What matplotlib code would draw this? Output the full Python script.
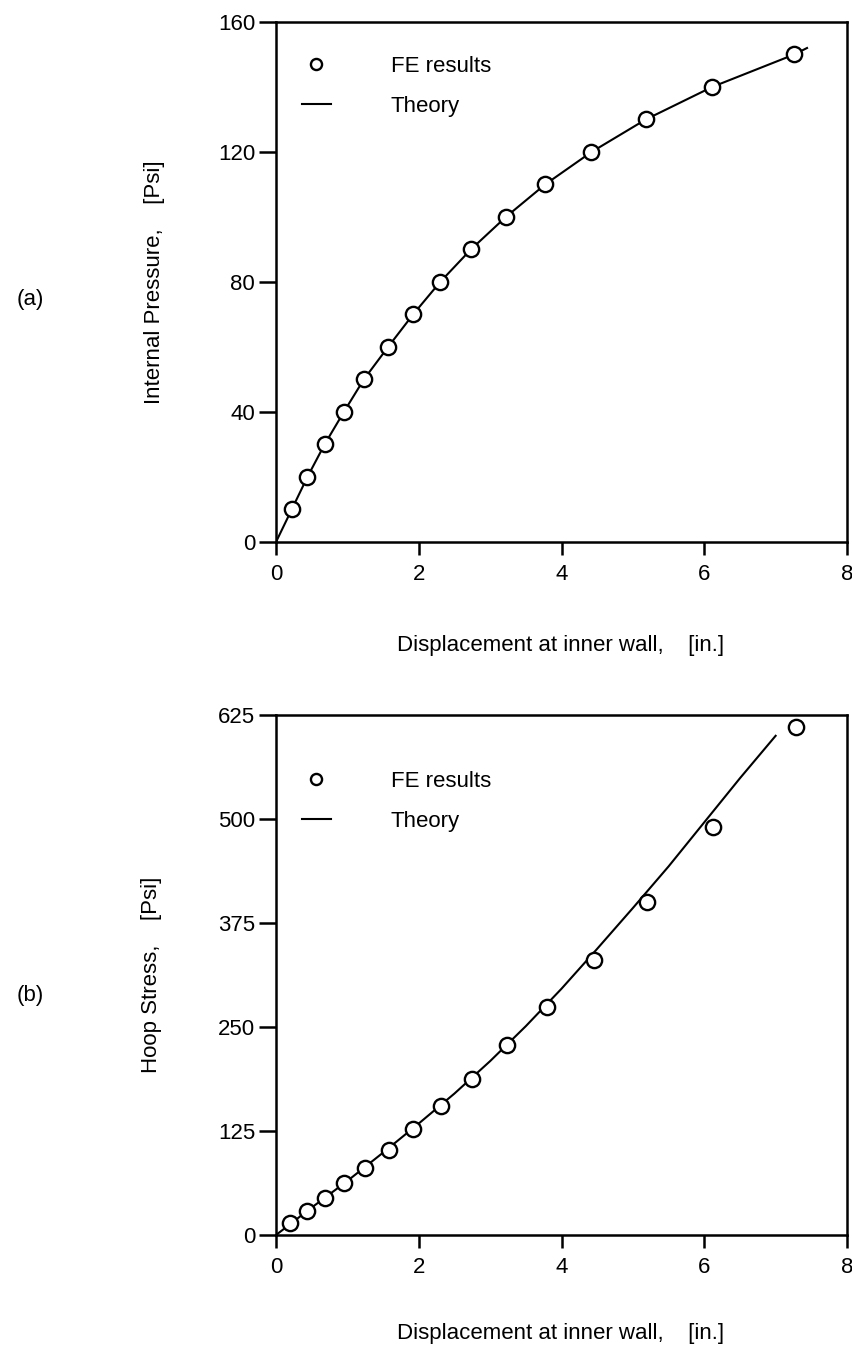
import matplotlib
matplotlib.use("Agg")
import matplotlib.pyplot as plt

plt.rcParams["font.family"] = ["Liberation Sans", "DejaVu Sans"]
plt.rcParams["font.size"] = 16

# (a) internal pressure vs displacement
x_a_fe = [0.22, 0.44, 0.68, 0.95, 1.23, 1.57, 1.92, 2.30, 2.73, 3.22, 3.77, 4.42, 5.18, 6.11, 7.26]
p_a_fe = [10, 20, 30, 40, 50, 60, 70, 80, 90, 100, 110, 120, 130, 140, 150]
x_a_th = [0, 0.22, 0.44, 0.68, 0.95, 1.23, 1.57, 1.92, 2.30, 2.73, 3.22, 3.77, 4.42, 5.18, 6.11, 7.26, 7.44]
p_a_th = [0, 10, 20, 30, 40, 50, 60, 70, 80, 90, 100, 110, 120, 130, 140, 150, 152]

# (b) hoop stress vs displacement
x_b_fe = [0.20, 0.43, 0.68, 0.95, 1.25, 1.58, 1.92, 2.31, 2.75, 3.24, 3.79, 4.45, 5.20, 6.12, 7.28]
s_b_fe = [14, 29, 45, 62, 81, 102, 127, 155, 187, 228, 274, 330, 400, 490, 610]
x_b_th = [0, 0.5, 1.0, 1.5, 2.0, 2.5, 3.0, 3.5, 4.0, 4.5, 5.0, 5.5, 6.0, 6.5, 7.0]
s_b_th = [0, 33, 65, 99, 134, 170, 209, 251, 296, 344, 393, 443, 496, 549, 600]

x_ticks = [0, 2, 4, 6, 8]
a_ticks = [0, 40, 80, 120, 160]
b_ticks = [0, 125, 250, 375, 500, 625]

W, H = 853, 1365
fig = plt.figure(figsize=(W / 100, H / 100), dpi=100)

ax_a = fig.add_axes([276 / W, 1 - 542 / H, 571 / W, 520 / H])
ax_b = fig.add_axes([276 / W, 1 - 1235 / H, 571 / W, 520 / H])


def style(ax, yticks, ymax):
    ax.set_xlim(0, 8)
    ax.set_ylim(0, ymax)
    ax.set_xticks(x_ticks)
    ax.set_yticks(yticks)
    for s in ax.spines.values():
        s.set_linewidth(1.8)
    ax.tick_params(axis="x", direction="out", length=9, width=1.8, pad=7)
    ax.tick_params(axis="y", direction="out", length=12, width=1.8, pad=3)


ax_a.plot(x_a_th, p_a_th, color="black", lw=1.5, label="Theory", zorder=2)
ax_a.plot(x_a_fe, p_a_fe, "o", ms=11, mfc="white", mec="black", mew=1.7, label="FE results", zorder=3)
style(ax_a, a_ticks, 160)

ax_b.plot(x_b_th, s_b_th, color="black", lw=1.5, label="Theory", zorder=2)
ax_b.plot(x_b_fe, s_b_fe, "o", ms=11, mfc="white", mec="black", mew=1.7, label="FE results", zorder=3)
style(ax_b, b_ticks, 625)

for ax, top in [(ax_a, 0.935), (ax_b, 0.893)]:
    h, l = ax.get_legend_handles_labels()
    leg = ax.legend(h[::-1], l[::-1], loc="upper left", bbox_to_anchor=(0.045, top),
                    frameon=False, handlelength=1.3, handletextpad=2.7,
                    labelspacing=0.85, borderpad=0, borderaxespad=0, fontsize=16)
    leg.legend_handles[0].set_markersize(8)

fig.text(561 / W, 1 - 646 / H, "Displacement at inner wall,    [in.]", ha="center", va="center")
fig.text(561 / W, 1 - 1334 / H, "Displacement at inner wall,    [in.]", ha="center", va="center")
fig.text(155 / W, 1 - 282 / H, "Internal Pressure,    [Psi]", rotation=90, ha="center", va="center")
fig.text(152 / W, 1 - 975 / H, "Hoop Stress,    [Psi]", rotation=90, ha="center", va="center")
fig.text(30 / W, 1 - 300 / H, "(a)", ha="center", va="center")
fig.text(30 / W, 1 - 995 / H, "(b)", ha="center", va="center")

fig.savefig("out.png", dpi=100, facecolor="white")
